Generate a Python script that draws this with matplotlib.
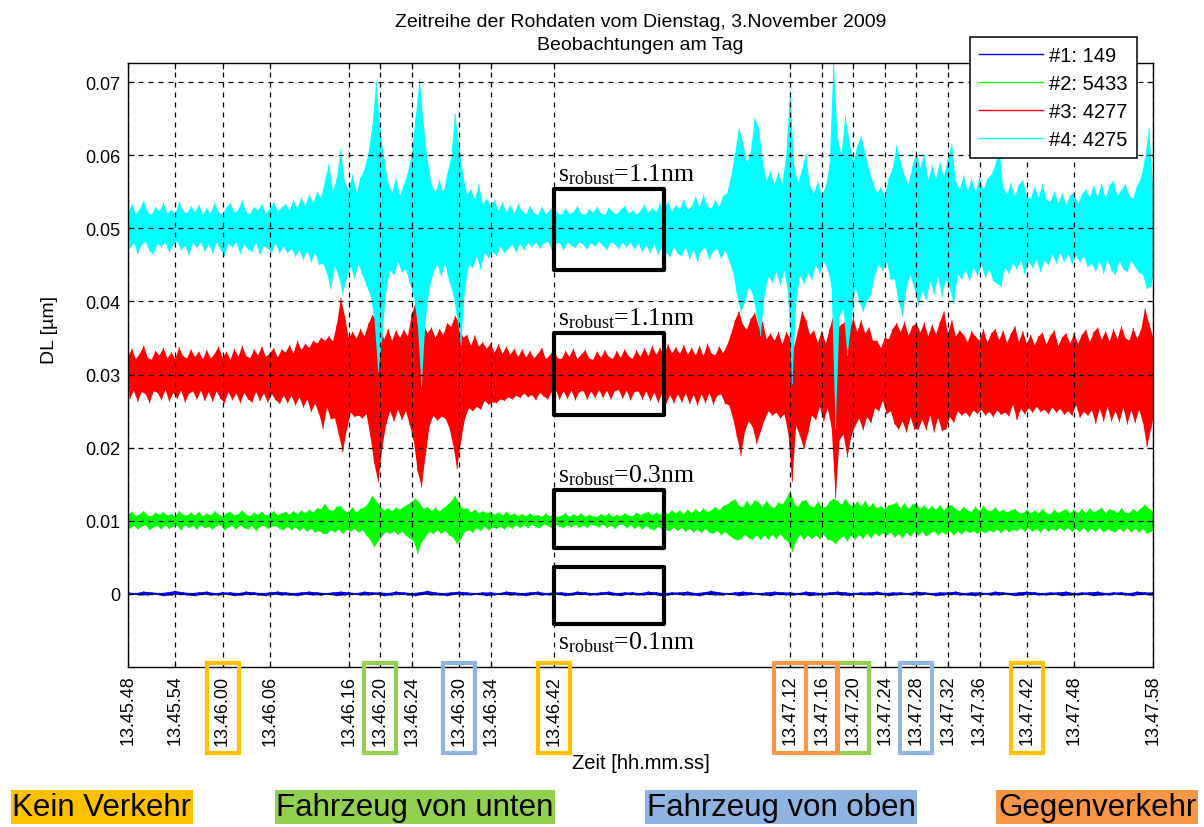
import numpy as np
import matplotlib
matplotlib.use("Agg")
import matplotlib.pyplot as plt
from matplotlib.patches import Rectangle
from matplotlib.lines import Line2D
from matplotlib.ticker import FuncFormatter

plt.rcParams['font.family'] = ['Liberation Sans', 'DejaVu Sans']

# ---------------------------------------------------------------------------
# Data
# ---------------------------------------------------------------------------
start_time = '13.45.48'
tick_labels = ['13.45.48', '13.45.54', '13.46.00', '13.46.06', '13.46.16',
               '13.46.20', '13.46.24', '13.46.30', '13.46.34', '13.46.42',
               '13.47.12', '13.47.16', '13.47.20', '13.47.24', '13.47.28',
               '13.47.32', '13.47.36', '13.47.42', '13.47.48', '13.47.58']

series_names = ['#1: 149', '#2: 5433', '#3: 4277', '#4: 4275']
series_colors = ['#0000FF', '#00FF00', '#FF0000', '#00FFFF']
series_offsets = [0.0, 0.01, 0.03, 0.05]       # µm
s_robust_nm = [0.1, 0.3, 1.1, 1.1]

# Envelope of each series: per-bin maximum above / minimum below the offset (nm)
bin_fast = 0.5   # s, series #2..#4
bin_slow = 1.0   # s, series #1

cyan_up = [
    2.1, 3.3, 1.9, 2.6, 3.7, 2.2, 1.8, 2.9, 2.3, 3.4, 2.0, 2.5, 1.9, 3.6, 2.4, 2.0, 3.0, 2.2, 3.2, 1.9,
    2.7, 2.0, 3.5, 2.2, 1.9, 2.8, 3.4, 2.1, 2.5, 3.8, 2.2, 1.9, 2.9, 2.4, 3.3, 2.0, 2.6, 3.6, 2.3, 2.8,
    3.3, 2.4, 3.8, 2.7, 4.2, 3.0, 4.6, 3.4, 5.0, 4.1, 6.5, 8.8, 5.0, 6.8, 10.9, 6.4, 5.2, 7.3, 4.8, 6.9,
    8.0, 10.2, 14.0, 20.0, 13.5, 9.4, 6.2, 4.9, 6.8, 4.5, 5.9, 7.6, 10.0, 15.2, 20.4, 14.1, 9.3, 6.0, 4.8, 6.6,
    4.7, 7.4, 9.6, 15.7, 11.2, 7.3, 4.6, 5.3, 3.9, 6.0, 3.3, 4.0, 3.1, 3.8, 2.4, 3.5, 2.2, 3.1, 2.0, 3.3,
    2.3, 1.9, 3.0, 2.1, 1.8, 2.9, 1.9, 2.4, 3.1, 2.0, 1.8, 2.7, 1.9, 2.2, 3.0, 2.0, 1.8, 2.6, 2.1, 2.9,
    2.0, 1.8, 2.8, 2.2, 1.9, 2.5, 3.0, 2.0, 2.4, 1.9, 2.3, 3.2, 2.1, 2.7, 2.2, 3.4, 2.5, 3.6, 2.3, 3.1,
    2.6, 3.9, 2.5, 3.0, 4.3, 2.8, 4.6, 3.0, 2.6, 3.9, 2.9, 4.4, 4.8, 7.0, 10.2, 13.6, 11.8, 8.9, 10.4, 15.0,
    13.8, 9.2, 6.5, 7.8, 5.9, 7.6, 6.0, 10.1, 18.8, 8.4, 6.2, 8.0, 10.2, 5.8, 4.7, 6.4, 4.5, 5.6, 8.7, 23.0,
    12.4, 10.1, 15.4, 11.8, 9.0, 11.2, 12.6, 10.3, 8.1, 6.2, 4.8, 5.6, 4.4, 6.8, 8.2, 11.3, 9.1, 7.2, 6.0, 8.4,
    10.5, 8.2, 10.1, 6.6, 8.5, 6.8, 9.0, 7.0, 9.4, 11.6, 6.4, 5.3, 7.2, 5.0, 6.8, 4.9, 7.0, 5.2, 6.7, 7.3,
    8.5, 11.0, 5.6, 4.6, 6.2, 4.3, 5.9, 6.6, 4.4, 4.0, 5.7, 4.2, 6.0, 3.9, 3.6, 5.0, 3.4, 4.7, 3.2, 4.5,
    4.8, 3.3, 4.6, 5.3, 4.2, 5.8, 4.3, 6.1, 4.0, 5.9, 6.5, 4.4, 5.2, 6.0, 4.5, 4.0, 5.8, 6.8, 9.5, 13.6,
    6.0]
cyan_down = [
    2.8, 2.0, 3.5, 2.2, 1.9, 3.1, 3.6, 2.1, 2.6, 1.9, 3.3, 2.3, 1.8, 3.0, 2.4, 3.7, 2.0, 2.7, 1.9, 3.2,
    2.2, 3.4, 2.0, 2.9, 3.8, 2.1, 2.6, 1.9, 3.5, 2.2, 2.9, 3.2, 2.0, 3.6, 2.4, 2.8, 3.3, 2.1, 3.4, 2.5,
    3.4, 2.8, 3.9, 3.0, 4.3, 3.1, 4.6, 3.4, 5.0, 4.8, 6.2, 8.3, 5.2, 6.6, 9.0, 6.8, 5.2, 6.9, 4.9, 6.4,
    7.8, 9.1, 12.3, 19.6, 15.0, 8.5, 5.8, 6.4, 4.6, 6.0, 5.6, 7.5, 9.2, 13.1, 21.7, 12.4, 8.2, 6.0, 4.9, 6.6,
    4.8, 7.2, 9.0, 12.1, 16.0, 8.2, 5.0, 5.4, 3.9, 5.6, 3.4, 4.1, 3.2, 3.8, 2.5, 3.4, 2.8, 2.2, 3.3, 2.1,
    3.0, 2.0, 2.6, 1.9, 2.8, 2.1, 1.8, 2.9, 2.2, 2.0, 3.0, 1.9, 2.4, 2.7, 1.9, 2.2, 2.9, 2.0, 2.5, 1.8,
    2.4, 3.0, 1.9, 2.2, 2.8, 2.0, 2.6, 1.9, 2.9, 2.1, 3.2, 2.3, 3.4, 2.2, 3.6, 2.5, 3.3, 3.9, 2.6, 3.5,
    3.8, 2.6, 4.2, 2.9, 4.6, 3.0, 2.7, 4.3, 3.1, 2.8, 4.2, 3.0, 4.4, 6.0, 9.0, 11.4, 10.2, 8.0, 9.0, 12.0,
    14.7, 9.0, 6.6, 7.4, 6.0, 7.8, 5.8, 9.0, 21.3, 10.0, 6.4, 7.6, 6.1, 7.0, 5.0, 6.2, 4.6, 5.6, 8.0, 27.4,
    12.0, 11.0, 17.4, 13.0, 8.0, 10.0, 11.4, 10.0, 9.0, 6.4, 5.0, 5.8, 4.6, 7.0, 7.0, 10.0, 12.0, 8.0, 6.4, 8.2,
    10.6, 8.6, 9.8, 7.2, 9.0, 6.6, 9.4, 7.0, 8.2, 10.4, 6.3, 7.0, 5.8, 7.2, 5.4, 6.5, 5.0, 6.8, 5.6, 7.2,
    7.6, 8.0, 5.4, 6.2, 4.8, 5.6, 4.4, 6.3, 4.6, 5.4, 4.3, 6.0, 4.4, 5.0, 3.6, 4.8, 3.4, 4.6, 3.5, 4.9,
    3.8, 4.6, 3.9, 5.3, 4.8, 5.9, 4.4, 6.2, 4.3, 5.8, 6.4, 4.5, 5.6, 6.0, 4.4, 5.3, 6.1, 6.4, 8.3, 8.0,
    5.5]

red_up = [
    2.4, 3.5, 2.1, 2.8, 3.9, 2.3, 2.0, 3.2, 2.6, 3.6, 2.2, 3.0, 2.1, 3.7, 2.5, 2.2, 3.4, 2.4, 3.1, 2.1,
    3.3, 2.2, 2.8, 3.8, 2.3, 3.1, 2.0, 3.5, 2.4, 3.9, 2.5, 2.2, 3.4, 2.6, 3.8, 2.4, 2.9, 3.6, 2.3, 3.4,
    3.0, 4.0, 2.9, 4.6, 3.3, 4.2, 3.6, 4.6, 4.2, 5.0, 4.6, 5.2, 4.5, 6.8, 10.4, 8.0, 5.0, 5.8, 4.9, 6.2,
    5.2, 6.9, 8.1, 7.6, 6.3, 4.8, 6.2, 4.6, 6.0, 5.0, 6.1, 5.2, 8.2, 9.9, 8.8, 7.0, 5.6, 6.4, 5.0, 6.2,
    5.4, 7.0, 6.5, 8.0, 7.2, 5.0, 5.4, 3.9, 5.3, 3.8, 4.4, 3.5, 4.2, 3.0, 4.1, 2.8, 3.8, 2.7, 3.5, 2.4,
    3.4, 2.3, 3.2, 2.2, 2.8, 3.6, 2.1, 2.6, 3.4, 2.2, 2.1, 3.2, 2.4, 3.5, 2.1, 2.7, 3.3, 2.2, 2.0, 3.1,
    2.3, 3.3, 2.4, 2.1, 3.2, 2.3, 3.4, 2.5, 2.1, 3.3, 2.4, 3.6, 2.5, 3.9, 2.7, 3.6, 2.6, 4.1, 2.9, 3.7,
    2.8, 4.0, 2.7, 3.6, 2.6, 3.9, 2.5, 4.2, 2.9, 2.6, 3.8, 2.9, 4.0, 5.5, 7.4, 8.6, 6.8, 6.1, 7.6, 8.4,
    6.6, 7.2, 4.8, 5.6, 4.6, 5.8, 4.1, 5.8, 4.9, 3.8, 6.0, 8.6, 7.4, 5.4, 6.0, 4.3, 5.9, 4.2, 6.2, 8.2,
    6.4, 6.8, 7.2, 6.0, 7.7, 5.8, 7.4, 5.6, 6.4, 4.6, 4.6, 3.6, 5.0, 4.8, 6.2, 7.0, 5.8, 7.2, 5.3, 6.6,
    7.0, 5.7, 7.1, 5.2, 6.8, 5.5, 7.2, 8.6, 5.6, 7.4, 5.2, 6.0, 5.4, 4.4, 5.9, 5.2, 4.6, 6.2, 4.3, 5.6,
    6.2, 4.7, 6.0, 4.3, 5.6, 6.6, 4.4, 5.9, 4.2, 5.4, 4.0, 5.2, 5.7, 4.1, 5.3, 6.0, 3.9, 5.1, 5.6, 4.2,
    5.6, 4.2, 5.4, 6.1, 4.4, 5.8, 6.4, 4.7, 5.9, 4.5, 6.2, 4.8, 6.6, 5.0, 4.6, 6.3, 4.9, 6.1, 9.0, 7.0,
    5.2]
red_down = [
    3.3, 2.2, 3.7, 2.4, 2.7, 3.9, 2.3, 2.5, 3.5, 2.1, 3.7, 2.5, 3.3, 2.2, 3.8, 2.6, 2.3, 3.4, 2.2, 3.6,
    2.4, 3.7, 2.3, 3.3, 3.9, 2.4, 3.5, 2.6, 3.9, 2.5, 3.4, 3.8, 2.4, 3.6, 2.6, 3.8, 2.7, 3.5, 4.0, 2.9,
    3.9, 2.9, 4.2, 3.1, 4.5, 3.4, 5.1, 4.0, 5.4, 7.4, 4.5, 6.1, 6.0, 8.2, 10.6, 7.6, 5.2, 5.8, 5.6, 6.0,
    5.4, 8.4, 12.2, 14.7, 10.0, 6.8, 5.0, 6.4, 4.8, 6.2, 5.0, 6.9, 9.0, 13.2, 15.4, 11.0, 7.0, 5.6, 6.3, 5.8,
    6.0, 7.2, 9.6, 12.9, 9.0, 6.0, 4.6, 5.0, 4.4, 4.8, 3.6, 4.1, 3.8, 3.9, 3.4, 3.6, 3.1, 3.4, 2.9, 3.2,
    2.6, 3.1, 2.8, 3.5, 2.5, 3.0, 3.4, 2.4, 2.1, 3.4, 2.3, 3.3, 2.2, 3.5, 2.4, 2.2, 3.4, 2.3, 3.2, 2.1,
    3.2, 2.2, 3.4, 2.3, 2.1, 3.3, 2.2, 3.5, 2.4, 2.3, 3.4, 2.3, 3.6, 2.5, 3.8, 2.6, 4.0, 2.8, 3.9, 2.7,
    3.8, 2.6, 4.0, 2.8, 4.2, 2.7, 3.9, 2.5, 4.1, 2.9, 2.7, 4.0, 4.2, 6.0, 8.5, 11.1, 7.8, 6.4, 7.2, 9.5,
    7.8, 6.2, 5.0, 5.6, 5.2, 6.0, 5.4, 8.0, 14.7, 7.0, 8.4, 10.2, 8.0, 5.6, 6.2, 4.4, 6.4, 4.6, 7.2, 16.9,
    9.0, 8.2, 11.3, 8.4, 7.0, 6.0, 7.6, 5.8, 6.6, 4.6, 5.0, 3.6, 5.4, 5.0, 6.8, 7.5, 6.4, 7.9, 5.8, 7.5,
    7.5, 6.2, 7.6, 5.6, 7.9, 5.9, 7.7, 7.5, 5.8, 6.6, 5.0, 5.6, 5.2, 5.8, 4.9, 5.4, 4.8, 5.6, 5.1, 5.8,
    4.9, 5.5, 5.2, 5.7, 4.1, 6.2, 4.7, 5.4, 4.6, 5.2, 4.4, 5.1, 4.8, 5.4, 4.5, 5.2, 4.7, 5.5, 5.0, 5.6,
    4.2, 5.9, 5.1, 5.6, 4.9, 6.7, 4.6, 6.4, 4.4, 6.4, 5.0, 6.5, 4.5, 6.8, 4.9, 6.6, 4.8, 6.6, 9.9, 7.4,
    5.0]

green_up = [
    0.7, 1.2, 0.6, 0.9, 1.3, 0.7, 0.6, 1.1, 0.8, 1.2, 0.7, 0.9, 0.6, 1.3, 0.8, 0.7, 1.1, 0.7, 1.2, 0.6,
    1.0, 0.7, 1.3, 0.8, 0.6, 1.0, 1.2, 0.7, 0.9, 1.4, 0.8, 0.6, 1.1, 0.8, 1.2, 0.7, 0.9, 1.3, 0.7, 1.0,
    1.2, 0.8, 1.3, 0.9, 1.4, 1.0, 1.5, 1.1, 1.7, 1.6, 2.3, 1.5, 1.3, 1.9, 2.0, 1.3, 1.2, 1.8, 1.1, 1.6,
    1.8, 2.4, 3.4, 2.7, 2.0, 1.4, 1.7, 1.3, 1.8, 1.5, 1.9, 2.2, 2.6, 3.0, 2.4, 1.6, 1.9, 1.3, 1.8, 1.2,
    1.7, 2.1, 2.6, 3.4, 2.4, 1.6, 1.7, 1.1, 1.5, 1.0, 1.3, 1.0, 1.2, 0.8, 1.1, 0.7, 1.2, 0.7, 1.0, 0.6,
    0.9, 0.6, 1.0, 0.6, 0.8, 0.5, 1.0, 0.6, 0.9, 0.5, 0.7, 1.0, 0.5, 0.9, 0.6, 1.0, 0.5, 0.8, 0.6, 0.5,
    0.9, 0.6, 1.0, 0.5, 0.8, 0.6, 1.0, 0.7, 0.6, 1.1, 0.7, 1.0, 1.2, 0.7, 1.1, 0.8, 1.3, 0.9, 1.4, 1.0,
    1.4, 0.9, 1.5, 1.0, 1.6, 1.1, 1.7, 1.2, 1.4, 1.9, 1.4, 2.0, 2.2, 2.6, 2.9, 2.1, 1.8, 2.7, 2.0, 2.8,
    2.5, 1.9, 2.7, 2.0, 1.7, 2.5, 2.2, 3.0, 4.1, 2.3, 1.9, 2.7, 2.8, 2.0, 1.8, 2.6, 1.9, 1.8, 2.6, 3.0,
    2.7, 2.1, 3.0, 2.2, 2.0, 2.6, 1.9, 2.7, 1.8, 2.4, 1.7, 2.0, 1.6, 2.1, 2.2, 2.5, 1.7, 2.4, 1.6, 2.2,
    2.3, 1.6, 2.1, 1.5, 2.0, 1.5, 2.1, 1.4, 2.0, 2.1, 1.5, 1.3, 1.9, 1.4, 1.2, 1.9, 1.3, 2.0, 1.4, 1.3,
    1.8, 1.2, 1.5, 1.1, 1.4, 1.6, 1.1, 1.0, 1.5, 1.0, 1.4, 1.0, 1.6, 1.0, 0.9, 1.5, 1.0, 1.3, 1.6, 1.0,
    1.5, 1.0, 1.6, 1.0, 1.7, 1.1, 1.4, 1.8, 1.0, 1.6, 1.4, 1.0, 1.7, 1.1, 1.0, 1.6, 1.2, 1.7, 2.2, 1.6,
    1.3]
green_down = [
    1.1, 0.7, 1.2, 0.8, 0.6, 1.3, 0.9, 0.7, 1.2, 0.6, 1.1, 0.8, 0.7, 1.3, 0.6, 1.0, 0.7, 1.2, 0.6, 1.0,
    0.8, 1.2, 0.7, 0.6, 1.3, 0.9, 0.7, 1.2, 0.6, 1.0, 1.2, 0.7, 1.4, 0.8, 0.7, 1.1, 0.8, 0.7, 1.1, 1.3,
    0.8, 1.3, 0.9, 1.4, 1.0, 1.5, 1.1, 1.6, 1.4, 1.8, 1.8, 1.3, 1.6, 1.2, 1.8, 1.2, 1.5, 1.1, 1.6, 1.3,
    2.0, 2.6, 3.6, 2.8, 2.1, 1.5, 1.8, 1.4, 1.9, 1.5, 2.0, 2.4, 2.8, 4.5, 3.0, 2.2, 1.5, 1.8, 1.3, 1.8,
    1.3, 2.0, 2.3, 3.2, 2.5, 1.5, 1.3, 1.6, 1.0, 1.4, 0.8, 1.3, 0.9, 1.1, 0.8, 1.2, 0.7, 1.1, 0.6, 1.0,
    0.6, 1.0, 0.5, 0.9, 1.0, 0.5, 0.7, 1.0, 0.5, 0.8, 1.0, 0.6, 0.9, 0.5, 1.0, 0.6, 1.0, 0.5, 0.7, 0.9,
    0.5, 1.0, 0.6, 1.1, 0.6, 0.5, 1.0, 0.6, 1.1, 0.7, 1.2, 0.7, 1.1, 1.3, 0.8, 1.2, 1.3, 1.4, 0.9, 1.4,
    1.0, 1.5, 1.1, 1.6, 1.2, 1.7, 1.1, 1.6, 1.8, 1.3, 2.0, 1.5, 2.0, 2.4, 2.7, 2.5, 1.9, 2.4, 2.6, 2.0,
    2.6, 2.0, 2.6, 1.9, 2.5, 1.8, 2.5, 2.9, 4.2, 2.8, 1.9, 2.6, 2.0, 2.5, 2.0, 2.5, 1.9, 2.6, 2.7, 3.2,
    2.5, 2.1, 2.8, 2.0, 2.6, 1.9, 2.5, 1.8, 2.4, 1.7, 2.1, 1.7, 2.0, 1.6, 2.3, 1.8, 2.4, 1.6, 2.2, 1.5,
    2.0, 1.5, 2.1, 1.8, 1.4, 2.0, 1.5, 1.9, 1.4, 2.0, 1.4, 1.9, 1.3, 1.7, 1.4, 1.8, 1.4, 1.7, 1.3, 1.6,
    1.2, 1.7, 1.1, 1.6, 1.2, 1.4, 1.0, 1.5, 1.0, 1.5, 1.1, 1.6, 1.0, 1.5, 1.1, 1.4, 1.0, 1.4, 1.0, 1.5,
    1.1, 1.5, 1.0, 1.6, 1.1, 1.5, 1.0, 1.6, 1.2, 1.4, 1.6, 1.1, 1.5, 1.0, 1.6, 1.1, 1.6, 1.1, 1.8, 1.5,
    1.2]

blue_up = [
    0.2, 0.1, 0.3, 0.2, 0.1, 0.2, 0.4, 0.2, 0.1, 0.2, 0.3, 0.1, 0.2, 0.2, 0.1, 0.3, 0.2, 0.1, 0.2, 0.3,
    0.2, 0.1, 0.2, 0.3, 0.2, 0.1, 0.2, 0.3, 0.2, 0.1, 0.3, 0.2, 0.2, 0.1, 0.3, 0.2, 0.1, 0.2, 0.4, 0.2,
    0.1, 0.2, 0.3, 0.2, 0.1, 0.2, 0.2, 0.1, 0.3, 0.2, 0.1, 0.2, 0.3, 0.1, 0.2, 0.2, 0.1, 0.3, 0.2, 0.1,
    0.2, 0.3, 0.1, 0.2, 0.2, 0.1, 0.3, 0.2, 0.1, 0.2, 0.2, 0.3, 0.1, 0.2, 0.4, 0.2, 0.1, 0.2, 0.3, 0.2,
    0.1, 0.2, 0.3, 0.2, 0.2, 0.1, 0.3, 0.2, 0.1, 0.2, 0.3, 0.2, 0.1, 0.2, 0.2, 0.3, 0.1, 0.2, 0.2, 0.1,
    0.3, 0.2, 0.1, 0.2, 0.2, 0.3, 0.1, 0.2, 0.2, 0.1, 0.3, 0.2, 0.1, 0.2, 0.3, 0.2, 0.1, 0.2, 0.2, 0.3,
    0.1, 0.2, 0.2, 0.3, 0.1, 0.2, 0.2, 0.1, 0.3, 0.2, 0.2]
blue_down = [
    0.1, 0.2, 0.2, 0.1, 0.3, 0.2, 0.1, 0.2, 0.3, 0.1, 0.2, 0.2, 0.1, 0.3, 0.2, 0.1, 0.2, 0.3, 0.1, 0.2,
    0.2, 0.3, 0.1, 0.2, 0.2, 0.1, 0.3, 0.2, 0.1, 0.2, 0.2, 0.1, 0.3, 0.2, 0.1, 0.2, 0.3, 0.1, 0.2, 0.2,
    0.3, 0.1, 0.2, 0.2, 0.1, 0.3, 0.2, 0.1, 0.2, 0.2, 0.3, 0.1, 0.2, 0.2, 0.1, 0.3, 0.2, 0.1, 0.2, 0.2,
    0.1, 0.2, 0.3, 0.1, 0.2, 0.2, 0.1, 0.3, 0.2, 0.1, 0.2, 0.2, 0.3, 0.1, 0.2, 0.2, 0.1, 0.3, 0.2, 0.1,
    0.2, 0.3, 0.1, 0.2, 0.2, 0.1, 0.3, 0.2, 0.2, 0.1, 0.2, 0.3, 0.1, 0.2, 0.2, 0.1, 0.3, 0.2, 0.1, 0.2,
    0.2, 0.1, 0.3, 0.2, 0.1, 0.2, 0.2, 0.3, 0.1, 0.2, 0.2, 0.1, 0.3, 0.2, 0.1, 0.2, 0.2, 0.1, 0.3, 0.2,
    0.2, 0.1, 0.3, 0.2, 0.2, 0.1, 0.2, 0.3, 0.1, 0.2, 0.2]

# Quiet window used for the robust standard deviation
window_start = '13.46.42'
window_end = '13.46.56'
# Vertical extent (µm) of the window frame around each series
window_bands = [(-0.0041, 0.0037), (0.0063, 0.0142), (0.0244, 0.0357), (0.0443, 0.0554)]

# Traffic situation per highlighted time stamp
categories = ['Kein Verkehr', 'Fahrzeug von unten', 'Fahrzeug von oben', 'Gegenverkehr']
category_colors = ['#FFC000', '#92D050', '#8DB4E2', '#F79646']
highlighted_times = {
    '13.46.00': 'Kein Verkehr', '13.46.42': 'Kein Verkehr', '13.47.42': 'Kein Verkehr',
    '13.46.20': 'Fahrzeug von unten', '13.47.20': 'Fahrzeug von unten',
    '13.46.30': 'Fahrzeug von oben', '13.47.28': 'Fahrzeug von oben',
    '13.47.12': 'Gegenverkehr', '13.47.16': 'Gegenverkehr',
}


def seconds(stamp):
    h, m, s = (int(v) for v in stamp.split('.'))
    return h * 3600 + m * 60 + s


def rel_seconds(stamp):
    return seconds(stamp) - seconds(start_time)


def draw_trace(ax, up, down, offset, step, color):
    """Solid band between bin extremes, with the extremes traced as a zigzag."""
    up = offset + np.asarray(up) / 1000.0
    down = offset - np.asarray(down) / 1000.0
    t_up = np.arange(len(up)) * step
    t_dn = t_up + step / 2
    ax.fill(np.concatenate([t_up, t_dn[::-1]]), np.concatenate([up, down[::-1]]),
            color=color, lw=0, zorder=2)
    tt = np.empty(2 * len(up))
    yy = np.empty(2 * len(up))
    tt[0::2], tt[1::2] = t_up, t_dn
    yy[0::2], yy[1::2] = up, down
    ax.plot(tt, yy, color=color, lw=0.6, zorder=2)


# ---------------------------------------------------------------------------
# Figure
# ---------------------------------------------------------------------------
W, H = 1204, 828
fig = plt.figure(figsize=(W / 100, H / 100), dpi=100)
ax_left, ax_right, ax_top, ax_bottom = 128, 1153, 64, 668
ax = fig.add_axes([ax_left / W, 1 - ax_bottom / H,
                   (ax_right - ax_left) / W, (ax_bottom - ax_top) / H])

envelopes = [(blue_up, blue_down, bin_slow), (green_up, green_down, bin_fast),
             (red_up, red_down, bin_fast), (cyan_up, cyan_down, bin_fast)]
for (up, down, step), off, col in zip(envelopes, series_offsets, series_colors):
    draw_trace(ax, up, down, off, step, col)

t_end = rel_seconds(tick_labels[-1])
ax.set_xlim(0, t_end)
ax.set_ylim(-0.01, 0.0726)

ax.set_xticks([rel_seconds(s) for s in tick_labels])
ax.set_xticklabels(tick_labels, rotation=90, fontsize=13)
ax.set_yticks([0, 0.01, 0.02, 0.03, 0.04, 0.05, 0.06, 0.07])
ax.yaxis.set_major_formatter(FuncFormatter(lambda v, p: '0' if abs(v) < 1e-12 else f'{v:.2f}'))
ax.tick_params(axis='both', direction='in', length=4, width=0.8, labelsize=13,
               top=True, right=True, pad=5.5)
ax.set_axisbelow(False)
ax.grid(True, color='black', linestyle=(0, (4, 4)), linewidth=0.9)
for sp in ax.spines.values():
    sp.set_linewidth(1.0)

ax.set_xlabel('Zeit [hh.mm.ss]', fontsize=14.5, labelpad=6)
ax.set_ylabel('DL [µm]', fontsize=14)
ax.yaxis.set_label_coords(-0.068, 0.56)
ax.set_title('Zeitreihe der Rohdaten vom Dienstag, 3.November 2009\nBeobachtungen am Tag',
             fontsize=14, pad=10, linespacing=1.45)

# Quiet window frames and robust standard deviations
x0 = rel_seconds(window_start)
x1 = rel_seconds(window_end)
for i, ((lo, hi), s) in enumerate(zip(window_bands, s_robust_nm)):
    ax.add_patch(Rectangle((x0, lo), x1 - x0, hi - lo, fill=False, edgecolor='black',
                           linewidth=3.0, joinstyle='round', zorder=4))
    label = r'$\mathregular{s_{robust}}$' + f'={s}nm'
    y_text = lo - 0.0033 if i == 0 else hi + 0.0012
    ax.text(x0 + 0.5, y_text, label, fontsize=18.5, family='Liberation Serif',
            va='baseline', ha='left', zorder=5)

# Legend
handles = [Line2D([], [], color=c, lw=1.0) for c in series_colors]
leg = ax.legend(handles, series_names, loc='upper right',
                bbox_to_anchor=(1137 / W, 1 - 38 / H), bbox_transform=fig.transFigure,
                borderaxespad=0, fontsize=14.5, handlelength=3.2, handletextpad=0.3,
                borderpad=0.45, labelspacing=0.45, fancybox=False, framealpha=1,
                edgecolor='black')
leg.get_frame().set_linewidth(1.1)
leg.set_zorder(10)

# Frames around the time stamps of the traffic situations
box_w = 32      # px
box_top, box_bot = 664, 754   # px from top
for stamp, cat in highlighted_times.items():
    xpx = ax.transData.transform((rel_seconds(stamp), 0))[0]
    x_fig = xpx / W
    col = category_colors[categories.index(cat)]
    fig.add_artist(Rectangle((x_fig - box_w / 2 / W, 1 - box_bot / H), box_w / W,
                             (box_bot - box_top) / H, fill=False, edgecolor=col,
                             linewidth=3.0, transform=fig.transFigure, zorder=5))

# Category key at the bottom
key_centers = [102, 415, 781, 1097]
for cat, col, xc in zip(categories, category_colors, key_centers):
    fig.text(xc / W, 1 - 808 / H, cat, fontsize=22.5, ha='center', va='center',
             bbox=dict(boxstyle='square,pad=0.05', facecolor=col, edgecolor='none'))

fig.savefig('out.png', dpi=100)
